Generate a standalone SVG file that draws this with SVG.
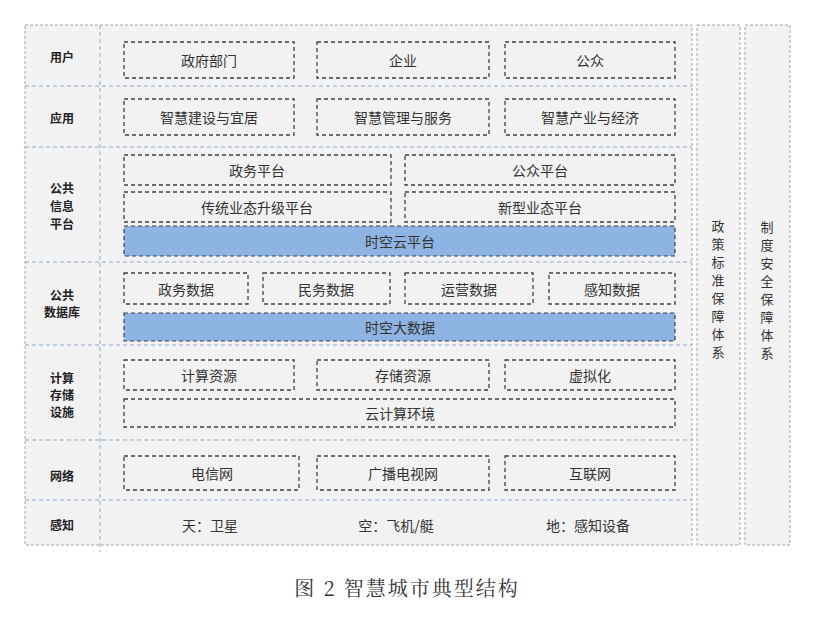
<svg xmlns="http://www.w3.org/2000/svg" width="813" height="627" viewBox="0 0 813 627">
<style>
.pn{fill:#f2f2f2;stroke:#a6a6a6;stroke-width:1;stroke-dasharray:3,2}
.dv{stroke:#8ea9c8;stroke-width:1;stroke-dasharray:4,3;fill:none}
.bx{fill:none;stroke:#404040;stroke-width:1.3;stroke-dasharray:4,3}
.bl{fill:#8eb4e3;stroke:#404040;stroke-width:1.2;stroke-dasharray:4,3}
text{font-family:"Noto Sans CJK SC",sans-serif;font-size:14px;fill:#333;text-anchor:middle;dominant-baseline:central}
.lb{font-weight:bold;font-size:12px;fill:#222}
.v{font-size:13px}
</style>
<rect class="pn" x="25" y="25" width="667" height="520"/>
<rect class="pn" x="697" y="25" width="43" height="520"/>
<rect class="pn" x="745" y="25" width="45" height="520"/>
<g id="connectors">
<line class="dv" x1="25" y1="86" x2="692" y2="86"/>
<line class="dv" x1="25" y1="147" x2="692" y2="147"/>
<line class="dv" x1="25" y1="262" x2="692" y2="262"/>
<line class="dv" x1="25" y1="345" x2="692" y2="345"/>
<line class="dv" x1="25" y1="440" x2="692" y2="440"/>
<line class="dv" x1="25" y1="500" x2="692" y2="500"/>
<line class="dv" x1="100" y1="25" x2="100" y2="552"/>
</g>
<g id="labels">
<text class="lb" x="62" y="56">用户</text>
<text class="lb" x="62" y="117">应用</text>
<text class="lb" x="62" y="187">公共</text><text class="lb" x="62" y="205">信息</text><text class="lb" x="62" y="223">平台</text>
<text class="lb" x="62" y="294">公共</text><text class="lb" x="62" y="311">数据库</text>
<text class="lb" x="62" y="377">计算</text><text class="lb" x="62" y="394">存储</text><text class="lb" x="62" y="411">设施</text>
<text class="lb" x="62" y="475">网络</text>
<text class="lb" x="62" y="524">感知</text>
</g>
<g id="n-user">
<rect class="bx" x="124" y="42" width="170" height="36"/><text x="209" y="60">政府部门</text>
<rect class="bx" x="317" y="42" width="172" height="36"/><text x="403" y="60">企业</text>
<rect class="bx" x="505" y="42" width="170" height="36"/><text x="590" y="60">公众</text>
</g>
<g id="n-app">
<rect class="bx" x="124" y="99" width="170" height="36"/><text x="209" y="117">智慧建设与宜居</text>
<rect class="bx" x="317" y="99" width="172" height="36"/><text x="403" y="117">智慧管理与服务</text>
<rect class="bx" x="505" y="99" width="170" height="36"/><text x="590" y="117">智慧产业与经济</text>
</g>
<g id="n-platform">
<rect class="bx" x="124" y="155" width="267" height="30"/><text x="257" y="170">政务平台</text>
<rect class="bx" x="405" y="155" width="270" height="30"/><text x="540" y="170">公众平台</text>
<rect class="bx" x="124" y="192" width="267" height="30"/><text x="257" y="207">传统业态升级平台</text>
<rect class="bx" x="405" y="192" width="270" height="30"/><text x="540" y="207">新型业态平台</text>
<rect class="bl" x="124" y="226" width="551" height="30"/><text x="400" y="241">时空云平台</text>
</g>
<g id="n-data">
<rect class="bx" x="124" y="273" width="124" height="31"/><text x="186" y="289">政务数据</text>
<rect class="bx" x="263" y="273" width="127" height="31"/><text x="326" y="289">民务数据</text>
<rect class="bx" x="405" y="273" width="128" height="31"/><text x="469" y="289">运营数据</text>
<rect class="bx" x="549" y="273" width="126" height="31"/><text x="612" y="289">感知数据</text>
<rect class="bl" x="124" y="313" width="551" height="28"/><text x="400" y="327">时空大数据</text>
</g>
<g id="n-compute">
<rect class="bx" x="124" y="360" width="170" height="30"/><text x="209" y="375">计算资源</text>
<rect class="bx" x="317" y="360" width="172" height="30"/><text x="403" y="375">存储资源</text>
<rect class="bx" x="505" y="360" width="170" height="30"/><text x="590" y="375">虚拟化</text>
<rect class="bx" x="124" y="399" width="551" height="28"/><text x="400" y="413">云计算环境</text>
</g>
<g id="n-net">
<rect class="bx" x="124" y="456" width="175" height="34"/><text x="212" y="473">电信网</text>
<rect class="bx" x="317" y="456" width="172" height="34"/><text x="403" y="473">广播电视网</text>
<rect class="bx" x="505" y="456" width="170" height="34"/><text x="590" y="473">互联网</text>
</g>
<g id="n-sense">
<text x="210" y="525">天：卫星</text>
<text x="396" y="525">空：飞机/艇</text>
<text x="588" y="525">地：感知设备</text>
</g>
<g id="n-policy">
<text class="v" x="718" y="225">政</text><text class="v" x="718" y="243">策</text><text class="v" x="718" y="261">标</text><text class="v" x="718" y="279">准</text><text class="v" x="718" y="297">保</text><text class="v" x="718" y="315">障</text><text class="v" x="718" y="333">体</text><text class="v" x="718" y="351">系</text>
</g>
<g id="n-security">
<text class="v" x="767" y="226">制</text><text class="v" x="767" y="244">度</text><text class="v" x="767" y="262">安</text><text class="v" x="767" y="280">全</text><text class="v" x="767" y="298">保</text><text class="v" x="767" y="316">障</text><text class="v" x="767" y="334">体</text><text class="v" x="767" y="352">系</text>
</g>
<text x="407" y="587" style="font-family:'Noto Serif CJK SC','Noto Sans CJK SC',serif;font-size:20px;fill:#333;letter-spacing:2px">图 2  智慧城市典型结构</text>
</svg>
